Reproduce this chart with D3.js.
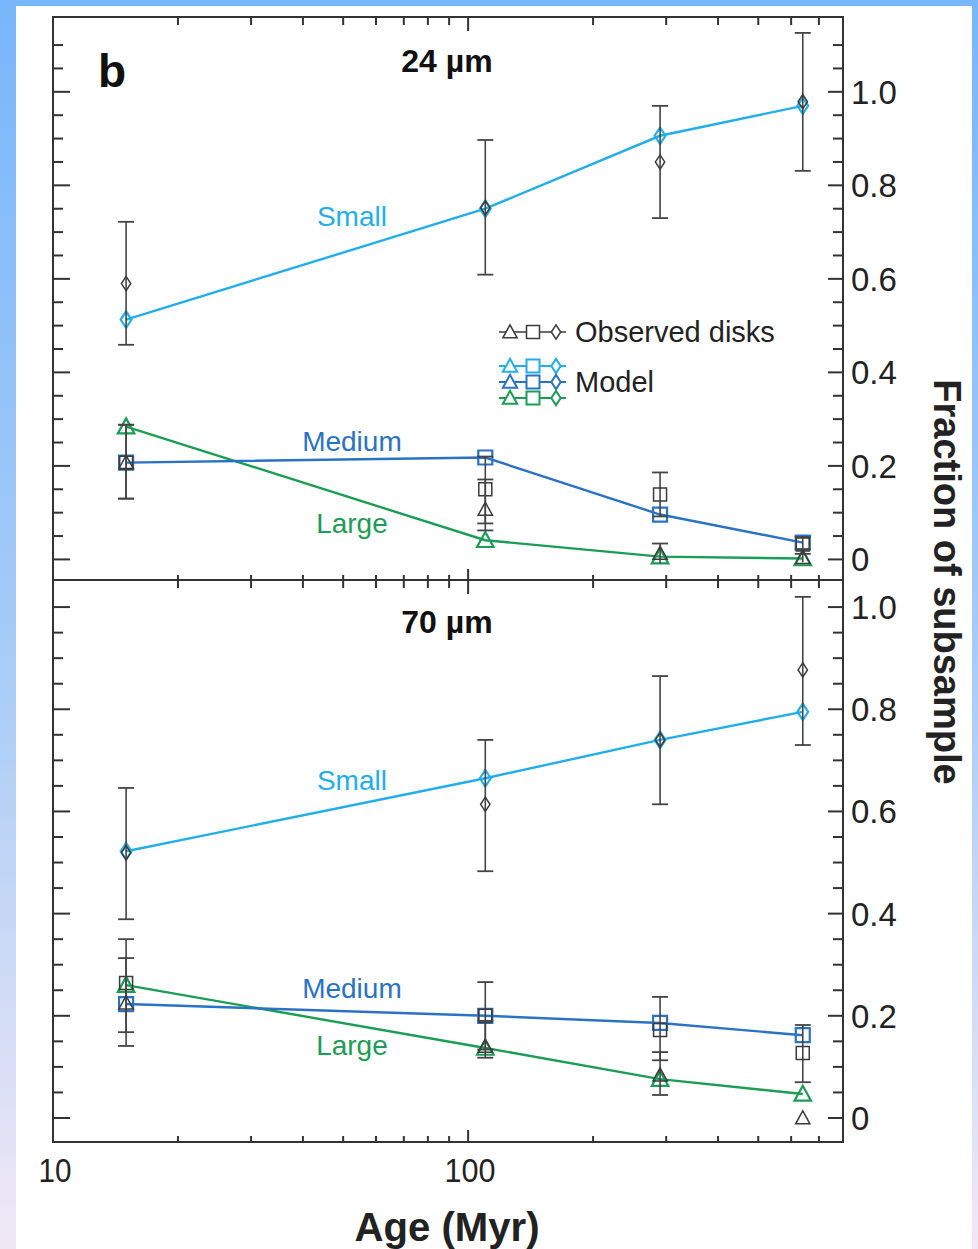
<!DOCTYPE html>
<html>
<head>
<meta charset="utf-8">
<script src="https://cdn.jsdelivr.net/npm/d3@7"></script>
<style>
  body { margin: 0; padding: 0; }
  svg { display: block; }
</style>
</head>
<body>
<div id="chart"></div>
<script>
var ages = [15, 110, 290, 640]
var yTicks = [0, 0.2, 0.4, 0.6, 0.8, 1.0]
var xTickLabels = [10, 100]

// 24 um panel
var model24Small = [0.513, 0.75, 0.906, 0.97]
var model24Medium = [0.207, 0.218, 0.096, 0.036]
var model24Large = [0.284, 0.041, 0.006, 0.002]
var obs24Small = [0.59, 0.752, 0.85, 0.979]
var obs24SmallLo = [0.459, 0.609, 0.73, 0.831]
var obs24SmallHi = [0.722, 0.897, 0.97, 1.126]
var obs24Medium = [0.207, 0.15, 0.139, 0.032]
var obs24MediumLo = [0.13, 0.077, 0.092, 0.012]
var obs24MediumHi = [0.288, 0.22, 0.186, 0.048]
var obs24Large = [0.207, 0.107, 0.013, 0.004]
var obs24LargeLo = [0.13, 0.062, -0.008, -0.006]
var obs24LargeHi = [0.288, 0.171, 0.034, 0.022]

// 70 um panel
var model70Small = [0.522, 0.665, 0.74, 0.795]
var model70Medium = [0.223, 0.2, 0.186, 0.162]
var model70Large = [0.26, 0.137, 0.076, 0.047]
var obs70Small = [0.519, 0.614, 0.74, 0.877]
var obs70SmallLo = [0.389, 0.483, 0.614, 0.73]
var obs70SmallHi = [0.646, 0.74, 0.865, 1.02]
var obs70Medium = [0.264, 0.2, 0.172, 0.127]
var obs70MediumLo = [0.168, 0.134, 0.113, 0.07]
var obs70MediumHi = [0.35, 0.266, 0.237, 0.182]
var obs70Large = [0.225, 0.14, 0.084, 0.0]
var obs70LargeLo = [0.141, 0.118, 0.045, 0.0]
var obs70LargeHi = [0.313, 0.19, 0.129, 0.0]

var colSmall = "#22aee9"
var colMedium = "#2a72c4"
var colLarge = "#1b9d55"
var colObs = "#3a3a3a"

var W = 978, H = 1249
var plotLeft = 53, plotRight = 843, plotTop = 17, plotMid = 580, plotBottom = 1142

var svg = d3.select("#chart")
    .append("svg")
    .attr("width", W)
    .attr("height", H)
    .style("font-family", "'Liberation Sans', Arial, sans-serif")

var defs = svg.append("defs")
var grad = defs.append("linearGradient").attr("id", "bg").attr("x1", 0).attr("y1", 0).attr("x2", 0).attr("y2", 1)
grad.append("stop").attr("offset", "0%").attr("stop-color", "#78b6fb")
grad.append("stop").attr("offset", "55%").attr("stop-color", "#a9cdf7")
grad.append("stop").attr("offset", "100%").attr("stop-color", "#f1e8f6")

svg.append("rect").attr("width", W).attr("height", H).style("fill", "url(#bg)")
svg.append("rect").attr("x", 16).attr("y", 6).attr("width", 956).attr("height", H - 6).style("fill", "white")

var x = d3.scaleLog().domain([10, 800]).range([plotLeft, plotRight])
var y24 = d3.scaleLinear().domain([-0.044, 1.16]).range([plotMid, plotTop])
var y70 = d3.scaleLinear().domain([-0.047, 1.053]).range([plotBottom, plotMid])

var minorX = d3.range(2, 10).map(function (d) { return d * 10 })
    .concat(d3.range(2, 9).map(function (d) { return d * 100 }))
var minorY = d3.range(0, 23).map(function (d) { return d * 0.05 })

function drawPanel(y, y0, y1, isTop) {
    var g = svg.append("g")
    var inside = minorY.filter(function (d) { return y(d) > y0 + 2 && y(d) < y1 - 2 })

    g.selectAll(".yl")
        .data(inside)
        .enter()
        .append("line")
        .attr("x1", plotLeft)
        .attr("x2", function (d) { return plotLeft + (Math.round(d * 100) % 20 == 0 ? 17 : 10) })
        .attr("y1", function (d) { return y(d) })
        .attr("y2", function (d) { return y(d) })
        .style("stroke", "#333").style("stroke-width", 2)

    g.selectAll(".yr")
        .data(inside)
        .enter()
        .append("line")
        .attr("x1", plotRight)
        .attr("x2", function (d) { return plotRight - (Math.round(d * 100) % 20 == 0 ? 15 : 10) })
        .attr("y1", function (d) { return y(d) })
        .attr("y2", function (d) { return y(d) })
        .style("stroke", "#333").style("stroke-width", 2)

    g.selectAll(".ylab")
        .data(yTicks)
        .enter()
        .append("text")
        .attr("x", plotRight + 8)
        .attr("y", function (d) { return y(d) + 12 })
        .text(function (d) { return d == 0 ? "0" : d.toFixed(1) })
        .style("font-size", "33px")
        .style("fill", "#222")

    g.selectAll(".xt")
        .data(minorX)
        .enter()
        .append("line")
        .attr("x1", function (d) { return x(d) })
        .attr("x2", function (d) { return x(d) })
        .attr("y1", isTop ? y0 : y0 - 5)
        .attr("y2", y0 + 8)
        .style("stroke", "#333").style("stroke-width", 2)
    g.append("line")
        .attr("x1", x(100)).attr("x2", x(100))
        .attr("y1", isTop ? y0 : y0 - 11).attr("y2", y0 + 14)
        .style("stroke", "#333").style("stroke-width", 2)

    g.append("rect")
        .attr("x", plotLeft).attr("y", y0)
        .attr("width", plotRight - plotLeft).attr("height", y1 - y0)
        .style("fill", "none").style("stroke", "#333").style("stroke-width", 2)
    return g
}

var g24 = drawPanel(y24, plotTop, plotMid, true)
var g70 = drawPanel(y70, plotMid, plotBottom, false)

// bottom axis ticks
svg.selectAll(".xb")
    .data(minorX)
    .enter()
    .append("line")
    .attr("x1", function (d) { return x(d) })
    .attr("x2", function (d) { return x(d) })
    .attr("y1", plotBottom)
    .attr("y2", plotBottom - 6)
    .style("stroke", "#333").style("stroke-width", 2)
svg.append("line")
    .attr("x1", x(100)).attr("x2", x(100))
    .attr("y1", plotBottom).attr("y2", plotBottom - 12)
    .style("stroke", "#333").style("stroke-width", 2)

svg.selectAll(".xlab")
    .data(xTickLabels)
    .enter()
    .append("text")
    .attr("x", function (d) { return x(d) + 2 })
    .attr("y", 1182)
    .attr("text-anchor", "middle")
    .attr("textLength", function (d) { return d == 10 ? 33 : 51 })
    .attr("lengthAdjust", "spacingAndGlyphs")
    .text(function (d) { return d })
    .style("font-size", "33px")
    .style("fill", "#222")

svg.append("text")
    .attr("x", 447).attr("y", 1241)
    .attr("text-anchor", "middle")
    .attr("textLength", 185)
    .attr("lengthAdjust", "spacingAndGlyphs")
    .text("Age (Myr)")
    .style("font-weight", "bold")
    .style("font-size", "40px")
    .style("fill", "#222")

svg.append("text")
    .attr("transform", "translate(934,582) rotate(90)")
    .attr("text-anchor", "middle")
    .text("Fraction of subsample")
    .style("font-weight", "bold")
    .style("font-size", "38px")
    .style("fill", "#222")

svg.append("text")
    .attr("x", 98).attr("y", 87)
    .text("b")
    .style("font-weight", "bold")
    .style("font-size", "46px")
    .style("fill", "#111")

function symbolPath(shape, size) {
    var s = size
    if (shape == "diamond") return "M0," + (-s * 0.55) + "L" + (s * 0.36) + ",0L0," + (s * 0.55) + "L" + (-s * 0.36) + ",0Z"
    if (shape == "square") return "M" + (-s / 2) + "," + (-s / 2) + "h" + s + "v" + s + "h" + (-s) + "Z"
    return "M0," + (-s * 0.55) + "L" + (s * 0.55) + "," + (s * 0.45) + "L" + (-s * 0.55) + "," + (s * 0.45) + "Z"
}

function drawObs(g, y, vals, lo, hi, shape) {
    var pts = ages.map(function (a, i) { return { a: a, v: vals[i], lo: lo[i], hi: hi[i] } })
    var eb = g.append("g")
    eb.selectAll("line.bar").data(pts).enter().append("line")
        .attr("x1", function (d) { return x(d.a) }).attr("x2", function (d) { return x(d.a) })
        .attr("y1", function (d) { return y(d.lo) }).attr("y2", function (d) { return y(d.hi) })
        .style("stroke", "#444").style("stroke-width", 1.6)
    eb.selectAll("line.lo").data(pts.filter(function (d) { return d.lo > 0 })).enter().append("line")
        .attr("x1", function (d) { return x(d.a) - 8 }).attr("x2", function (d) { return x(d.a) + 8 })
        .attr("y1", function (d) { return y(d.lo) }).attr("y2", function (d) { return y(d.lo) })
        .style("stroke", "#444").style("stroke-width", 1.8)
    eb.selectAll("line.hi").data(pts.filter(function (d) { return d.hi > 0 })).enter().append("line")
        .attr("x1", function (d) { return x(d.a) - 8 }).attr("x2", function (d) { return x(d.a) + 8 })
        .attr("y1", function (d) { return y(d.hi) }).attr("y2", function (d) { return y(d.hi) })
        .style("stroke", "#444").style("stroke-width", 1.8)
    g.selectAll(null).data(pts).enter().append("path")
        .attr("d", symbolPath(shape, 13))
        .attr("transform", function (d) { return "translate(" + x(d.a) + "," + y(d.v) + ")" })
        .style("fill", "none").style("stroke", colObs).style("stroke-width", 1.5)
}

function drawModel(g, y, vals, color, shape) {
    var pts = ages.map(function (a, i) { return { a: a, v: vals[i] } })
    var line = d3.line().x(function (d) { return x(d.a) }).y(function (d) { return y(d.v) })
    g.append("path")
        .attr("d", line(pts))
        .style("fill", "none").style("stroke", color).style("stroke-width", 2.4)
    g.selectAll(null).data(pts).enter().append("path")
        .attr("d", symbolPath(shape, shape == "square" ? 14 : 15))
        .attr("transform", function (d) { return "translate(" + x(d.a) + "," + y(d.v) + ")" })
        .style("fill", "none").style("stroke", color).style("stroke-width", 2.2)
}

drawModel(g24, y24, model24Large, colLarge, "triangle")
drawModel(g24, y24, model24Medium, colMedium, "square")
drawModel(g24, y24, model24Small, colSmall, "diamond")
drawObs(g24, y24, obs24Small, obs24SmallLo, obs24SmallHi, "diamond")
drawObs(g24, y24, obs24Medium, obs24MediumLo, obs24MediumHi, "square")
drawObs(g24, y24, obs24Large, obs24LargeLo, obs24LargeHi, "triangle")

drawModel(g70, y70, model70Large, colLarge, "triangle")
drawModel(g70, y70, model70Medium, colMedium, "square")
drawModel(g70, y70, model70Small, colSmall, "diamond")
drawObs(g70, y70, obs70Small, obs70SmallLo, obs70SmallHi, "diamond")
drawObs(g70, y70, obs70Medium, obs70MediumLo, obs70MediumHi, "square")
drawObs(g70, y70, obs70Large, obs70LargeLo, obs70LargeHi, "triangle")

// panel titles and series labels
svg.append("text").attr("x", 447).attr("y", 72).attr("text-anchor", "middle")
    .text("24 µm").style("font-weight", "bold").style("font-size", "32px").style("fill", "#111")
svg.append("text").attr("x", 447).attr("y", 633).attr("text-anchor", "middle")
    .text("70 µm").style("font-weight", "bold").style("font-size", "32px").style("fill", "#111")

var labelAge = 52.5
var labels24 = [["Small", 0.712, colSmall], ["Medium", 0.231, colMedium], ["Large", 0.056, colLarge]]
var labels70 = [["Small", 0.642, colSmall], ["Medium", 0.235, colMedium], ["Large", 0.123, colLarge]]

g24.selectAll(".lab").data(labels24).enter().append("text")
    .attr("x", x(labelAge)).attr("y", function (d) { return y24(d[1]) })
    .attr("text-anchor", "middle")
    .text(function (d) { return d[0] })
    .style("font-size", "28px").style("fill", function (d) { return d[2] })
g70.selectAll(".lab").data(labels70).enter().append("text")
    .attr("x", x(labelAge)).attr("y", function (d) { return y70(d[1]) })
    .attr("text-anchor", "middle")
    .text(function (d) { return d[0] })
    .style("font-size", "28px").style("fill", function (d) { return d[2] })

// legend
var legendRows = [[332, colObs, 1.5], [366, colSmall, 2], [382, colMedium, 2], [398, colLarge, 2]]
var legend = svg.append("g").attr("class", "legend")
legendRows.forEach(function (r) {
    legend.append("line").attr("x1", 499).attr("x2", 566).attr("y1", r[0]).attr("y2", r[0])
        .style("stroke", r[1]).style("stroke-width", r[2])
    ;[["triangle", 510], ["square", 533], ["diamond", 556]].forEach(function (s) {
        legend.append("path").attr("d", symbolPath(s[0], 13))
            .attr("transform", "translate(" + s[1] + "," + r[0] + ")")
            .style("fill", "white").style("stroke", r[1]).style("stroke-width", r[2])
    })
})
legend.append("text").attr("x", 575).attr("y", 342).text("Observed disks")
    .style("font-size", "29px").style("fill", "#222")
legend.append("text").attr("x", 575).attr("y", 392).text("Model")
    .style("font-size", "29px").style("fill", "#222")
</script>
</body>
</html>
